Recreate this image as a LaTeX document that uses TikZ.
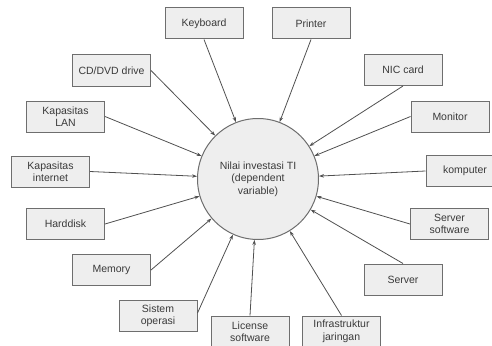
\documentclass[tikz,border=0pt]{standalone}
\usepackage{fontspec}
\setmainfont{Liberation Sans}
\usetikzlibrary{arrows.meta}
\definecolor{boxfill}{HTML}{EEEEEE}
\definecolor{boxline}{HTML}{6E6E6E}
\definecolor{txt}{HTML}{3A3A3A}
\definecolor{arr}{HTML}{505050}
\begin{document}
\begin{tikzpicture}[x=1pt,y=-1pt,
  every node/.style={font=\fontsize{10.5}{12.5}\selectfont, text=txt},
  itembox/.style={draw=boxline, line width=1pt, fill=boxfill, minimum width=78pt, minimum height=31pt, inner sep=0pt, align=center},
  hub/.style={circle, draw=boxline, line width=1pt, fill=boxfill, minimum size=121pt, inner sep=0pt, align=center},
  link/.style={draw=arr, line width=0.8pt, -{Stealth[length=5pt,width=3.5pt]}}]
\useasboundingbox (0,0) rectangle (492,345);
\clip (0,0) rectangle (492,345);
\node[hub] (c) at (258,179) {Nilai investasi TI\\(dependent\\variable)};
\node[itembox] (kb) at (204,23.5) {Keyboard};
\node[itembox] (pr) at (311,23.5) {Printer};
\node[itembox] (cd) at (111.5,70.5) {CD/DVD drive};
\node[itembox] (nic) at (403,70) {NIC card};
\node[itembox] (lan) at (65.5,116.5) {Kapasitas\\LAN};
\node[itembox] (mon) at (450,116.5) {Monitor};
\node[itembox] (inet) at (50.5,171.5) {Kapasitas\\internet};
\node[itembox] (komp) at (465,171) {komputer};
\node[itembox] (hd) at (65.5,224) {Harddisk};
\node[itembox] (ss) at (449.5,224) {Server\\software};
\node[itembox] (mem) at (111.5,270) {Memory};
\node[itembox] (srv) at (403,279.5) {Server};
\node[itembox] (so) at (158,316) {Sistem\\operasi};
\node[itembox] (lic) at (250,331.5) {License\\software};
\node[itembox] (infra) at (341.5,331.5) {Infrastruktur\\jaringan};
\draw[link] (kb.south) -- (c);
\draw[link] (pr.south) -- (c);
\draw[link] (cd.east) -- (c);
\draw[link] (nic.south) -- (c);
\draw[link] (lan.east) -- (c);
\draw[link] (mon.west) -- (c);
\draw[link] (inet.east) -- (c);
\draw[link] (komp.west) -- (c);
\draw[link] (hd.east) -- (c);
\draw[link] (ss.west) -- (c);
\draw[link] (mem.east) -- (c);
\draw[link] (srv.north) -- (c);
\draw[link] ([yshift=3pt]so.east) -- (c);
\draw[link] (lic.north) -- (c);
\draw[link] (infra.north) -- (c);
\end{tikzpicture}
\end{document}
